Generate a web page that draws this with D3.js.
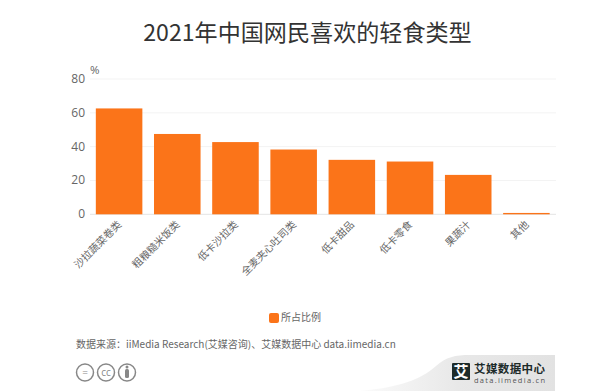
<!DOCTYPE html>
<html>

<head>
  <meta charset="utf-8">
  <script src="https://cdn.jsdelivr.net/npm/d3@7"></script>
  <style>
    body {
      margin: 0;
      background: white;
    }

    svg {
      display: block;
    }

    text {
      font-family: "Noto Sans CJK SC", "Open Sans", sans-serif;
    }
  </style>
</head>

<body>
  <script>
    const categories = ['沙拉蔬菜卷类', '粗粮糙米饭类', '低卡沙拉类', '全麦夹心吐司类', '低卡甜品', '低卡零食', '果蔬汁', '其他']
    const values = [62.6, 47.5, 42.7, 38.3, 32.2, 31.2, 23.3, 0.8]
    const yTicks = [0, 20, 40, 60, 80]
    const seriesName = '所占比例'
    const title = '2021年中国网民喜欢的轻食类型'
    const source = '数据来源：iiMedia Research(艾媒咨询)、艾媒数据中心 data.iimedia.cn'

    const orange = '#fb7419'
    const grey = '#666'

    const svg = d3.select('body').append('svg').attr('width', 600).attr('height', 391)

    const x = d3.scaleBand().domain(categories).range([90, 555.5]).paddingInner(0.2).paddingOuter(0.1)
    const y = d3.scaleLinear().domain([0, 80]).range([214.3, 79])

    svg.append('text')
      .attr('x', 307.5).attr('y', 41)
      .attr('text-anchor', 'middle')
      .attr('font-size', 23.1)
      .attr('fill', '#333')
      .text(title)

    // grid
    svg.append('g').selectAll('line').data(yTicks).join('line')
      .attr('x1', 90).attr('x2', 556)
      .attr('y1', d => y(d)).attr('y2', d => y(d))
      .attr('stroke', d => d === 0 ? '#e4e4e4' : '#f3f3f3')

    svg.append('g').selectAll('text').data(yTicks).join('text')
      .attr('x', 85).attr('y', d => y(d) + 4)
      .attr('text-anchor', 'end')
      .attr('font-size', 12)
      .attr('fill', grey)
      .style('font-family', '"Open Sans", sans-serif')
      .text(d => d)

    svg.append('text')
      .attr('x', 90).attr('y', 74)
      .attr('font-size', 11.5)
      .attr('fill', grey)
      .style('font-family', '"Open Sans", sans-serif')
      .text('%')

    svg.append('g').selectAll('rect').data(values).join('rect')
      .attr('x', (d, i) => x(categories[i]))
      .attr('y', d => y(d))
      .attr('width', x.bandwidth())
      .attr('height', d => y(0) - y(d))
      .attr('fill', orange)

    svg.append('g').selectAll('text').data(categories).join('text')
      .attr('transform', d => `translate(${x(d) + x.bandwidth() / 2 + 3},${y(0) + 11}) rotate(-45)`)
      .attr('text-anchor', 'end')
      .attr('font-size', 10.3)
      .attr('fill', grey)
      .text(d => d)

    // legend
    svg.append('rect')
      .attr('x', 269).attr('y', 313).attr('width', 10).attr('height', 10).attr('rx', 2)
      .attr('fill', orange)
    svg.append('text')
      .attr('x', 281).attr('y', 321)
      .attr('font-size', 10)
      .attr('fill', grey)
      .text(seriesName)

    svg.append('text')
      .attr('x', 76).attr('y', 347.5)
      .attr('font-size', 10)
      .attr('fill', grey)
      .text(source)

    // cc icons
    const icons = [
      { cx: 85, label: '=' },
      { cx: 106, label: 'cc' },
      { cx: 127, label: '' }
    ]
    const iconG = svg.append('g')
    iconG.selectAll('circle').data(icons).join('circle')
      .attr('cx', d => d.cx).attr('cy', 372.5).attr('r', 8.5)
      .attr('fill', 'white').attr('stroke', '#888').attr('stroke-width', 1.5)
    iconG.selectAll('text').data(icons).join('text')
      .attr('x', d => d.cx).attr('y', 376)
      .attr('text-anchor', 'middle')
      .attr('font-size', 10)
      .attr('fill', '#888')
      .style('font-family', '"Open Sans", sans-serif')
      .text(d => d.label)
    iconG.append('circle').attr('cx', 127).attr('cy', 367).attr('r', 1.5).attr('fill', '#888')
    iconG.append('rect').attr('x', 125).attr('y', 369).attr('width', 4).attr('height', 9).attr('rx', 1.5).attr('fill', '#888')

    // watermark corner
    const grad = svg.append('defs').append('linearGradient').attr('id', 'wm')
    grad.append('stop').attr('offset', '0').attr('stop-color', '#fbfbfb')
    grad.append('stop').attr('offset', '0.5').attr('stop-color', '#e8e8e8')
    grad.append('stop').attr('offset', '1').attr('stop-color', '#e2e2e2')
    svg.append('path')
      .attr('d', 'M360,391 C400,387 420,380 436,366 C446,357 455,355 470,355 L555,355 L555,391 Z')
      .attr('fill', 'url(#wm)')

    svg.append('rect').attr('x', 452).attr('y', 363).attr('width', 18).attr('height', 17).attr('rx', 1).attr('fill', '#1d2b2a')
    svg.append('text')
      .attr('x', 461).attr('y', 377).attr('text-anchor', 'middle')
      .attr('font-size', 15).attr('font-weight', 700).attr('fill', 'white')
      .text('艾')
    svg.append('text')
      .attr('x', 474).attr('y', 373)
      .attr('font-size', 11.5).attr('font-weight', 700).attr('fill', '#1d2b2a')
      .attr('textLength', 71)
      .text('艾媒数据中心')
    svg.append('text')
      .attr('x', 474).attr('y', 382.5)
      .attr('font-size', 7.5).attr('fill', '#555')
      .attr('textLength', 71)
      .style('font-family', '"Open Sans", sans-serif')
      .text('data.iimedia.cn')
  </script>
</body>

</html>
